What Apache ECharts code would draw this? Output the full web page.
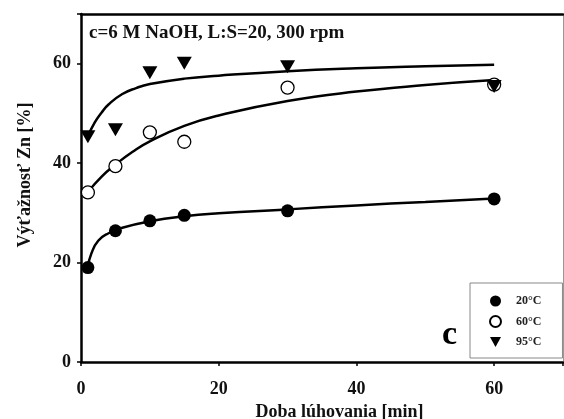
<!DOCTYPE html>
<html>
<head>
<meta charset="utf-8">
<script src="https://cdn.jsdelivr.net/npm/echarts@6/dist/echarts.min.js"></script>
<style>html,body{margin:0;padding:0;background:#fff;}#c{width:564px;height:419px;}</style>
</head>
<body>
<div id="c"></div>
<script>
// measured points
var times = [1, 5, 10, 15, 30, 60];
var y20 = [19.0, 26.4, 28.4, 29.5, 30.4, 32.8];
var y60 = [34.1, 39.4, 46.2, 44.3, 55.2, 55.8];
var y95 = [45.3, 46.7, 58.2, 60.1, 59.4, 55.4];
// fitted curves
var fit20 = [[1,19.2],[1.5,21.8],[2.5,24.4],[4,25.9],[6,27.0],[10,28.3],[15,29.3],[20,29.9],[30,30.7],[40,31.5],[50,32.2],[60,32.9]];
var fit60 = [[1,34.2],[3,37.3],[5,39.7],[7.5,42.3],[10,44.4],[15,47.5],[20,49.6],[30,52.5],[40,54.4],[50,55.7],[60,56.7]];
var fit95 = [[1,45.4],[2,48.2],[3,50.2],[4,51.8],[6,53.9],[8,55.1],[10,55.9],[15,57.0],[20,57.6],[30,58.5],[40,59.1],[50,59.5],[60,59.8]];
var xTicks = [0, 20, 40, 60];
var yTicks = [0, 20, 40, 60];
var seriesNames = ['20°C', '60°C', '95°C'];

function pairs(xs, ys){ return xs.map(function(x,i){ return [x, ys[i]]; }); }

var serif = '"Liberation Serif", "Times New Roman", serif';
var chart = echarts.init(document.getElementById('c'));
function curve(d){
  return {type:'line', data:d, smooth:0.5, showSymbol:false, symbol:'none',
    lineStyle:{color:'#000', width:2.5}, z:2, silent:true};
}
chart.setOption({
  animation:false,
  backgroundColor:'#fff',
  title:{text:'c=6 M NaOH, L:S=20, 300 rpm', left:89, top:24, padding:0,
    textStyle:{fontFamily:serif, fontWeight:'bold', fontSize:19, color:'#111'}},
  grid:{left:81, right:1, top:14, bottom:57, show:false, outerBoundsMode:'none', containLabel:false},
  legend:{data:[{name:seriesNames[0]},{name:seriesNames[1]},{name:seriesNames[2], icon:'path://M0,0L12,0L6,11Z'}],
    orient:'vertical', left:470, top:283,
    padding:[12,21,10,19], itemWidth:11, itemHeight:11, itemGap:8,
    backgroundColor:'#fff', borderColor:'#888', borderWidth:1,
    textStyle:{fontFamily:serif, fontWeight:'bold', fontSize:12, color:'#222', padding:[0,0,0,10]}},
  xAxis:[{type:'value', min:0, max:70, interval:20,
    axisLine:{lineStyle:{color:'#000', width:2.5}},
    axisTick:{show:true, length:4, lineStyle:{color:'#000', width:1.5}},
    splitLine:{show:false},
    axisLabel:{margin:18, fontFamily:serif, fontWeight:'bold', fontSize:18, color:'#111',
      formatter:function(v){ return xTicks.indexOf(v) >= 0 ? String(v) : ''; }},
    name:'Doba lúhovania [min]', nameLocation:'middle', nameGap:38,
    nameTextStyle:{fontFamily:serif, fontWeight:'bold', fontSize:18, color:'#111', padding:[0,0,0,35]}},
    {type:'value', position:'top', min:0, max:70, axisLine:{show:true, onZero:false, lineStyle:{color:'#000', width:2.5}},
     axisTick:{show:false}, axisLabel:{show:false}, splitLine:{show:false}}],
  yAxis:[{type:'value', min:0, max:70, interval:20,
    axisLine:{lineStyle:{color:'#000', width:2.5}},
    axisTick:{show:true, length:4, lineStyle:{color:'#000', width:1.5}},
    splitLine:{show:false},
    axisLabel:{margin:10, fontFamily:serif, fontWeight:'bold', fontSize:18, color:'#111',
      formatter:function(v){ return yTicks.indexOf(v) >= 0 ? String(v) : ''; }},
    name:'Výťažnosť Zn [%]', nameLocation:'middle', nameGap:47,
    nameTextStyle:{fontFamily:serif, fontWeight:'bold', fontSize:18, color:'#111', padding:[0,0,0,26]}},
    {type:'value', position:'right', min:0, max:70, axisLine:{show:true, onZero:false, lineStyle:{color:'#999', width:1}},
     axisTick:{show:false}, axisLabel:{show:false}, splitLine:{show:false}}],
  graphic:[{type:'text', left:442, top:318,
    style:{text:'c', font:'bold 34px ' + serif, fill:'#000'}}],
  series:[
    curve(fit20), curve(fit60), curve(fit95),
    {name:seriesNames[0], type:'scatter', data:pairs(times, y20), symbol:'circle', symbolSize:13,
      itemStyle:{color:'#000', opacity:1}, z:4},
    {name:seriesNames[1], type:'scatter', data:pairs(times, y60), symbol:'circle', symbolSize:13,
      itemStyle:{color:'#fff', borderColor:'#000', borderWidth:1.3, opacity:1}, z:4},
    {name:seriesNames[2], type:'scatter', data:pairs(times, y95), symbol:'triangle', symbolSize:[15,13],
      symbolRotate:180, itemStyle:{color:'#000', opacity:1}, z:5}
  ]
});
</script>
</body>
</html>
